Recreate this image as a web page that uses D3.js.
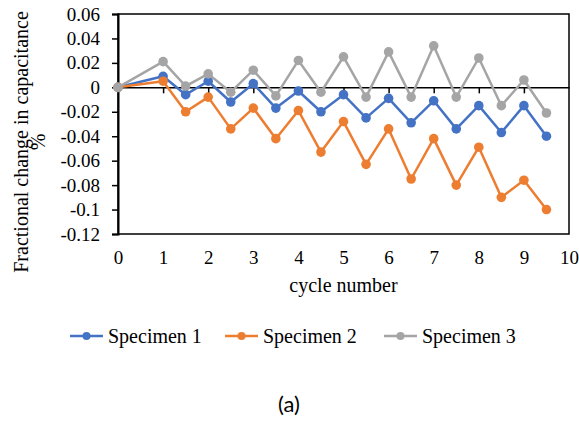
<!DOCTYPE html>
<html>
<head>
<meta charset="utf-8">
<script src="https://cdn.jsdelivr.net/npm/d3@7"></script>
<style>
  html, body { margin: 0; padding: 0; background: #fff; }
  svg { display: block; }
  .serif { font-family: "Liberation Serif", Tinos, "Times New Roman", Times, "DejaVu Serif", serif; }
  .sans { font-family: Lato, "Open Sans", sans-serif; }
</style>
</head>
<body>
<svg id="chart" width="579" height="424"></svg>
<script>
const cycles = [0, 1, 1.5, 2, 2.5, 3, 3.5, 4, 4.5, 5, 5.5, 6, 6.5, 7, 7.5, 8, 8.5, 9, 9.5];
const specimen1 = [0, 0.009, -0.006, 0.005, -0.012, 0.003, -0.017, -0.003, -0.020, -0.006, -0.025, -0.009, -0.029, -0.011, -0.034, -0.015, -0.037, -0.015, -0.040];
const specimen2 = [0, 0.005, -0.020, -0.008, -0.034, -0.017, -0.042, -0.019, -0.053, -0.028, -0.063, -0.034, -0.075, -0.042, -0.080, -0.049, -0.090, -0.076, -0.100];
const specimen3 = [0, 0.021, 0.001, 0.011, -0.004, 0.014, -0.007, 0.022, -0.004, 0.025, -0.008, 0.029, -0.008, 0.034, -0.008, 0.024, -0.015, 0.006, -0.021];
const seriesNames = ["Specimen 1", "Specimen 2", "Specimen 3"];
const seriesColors = ["#4472C4", "#ED7D31", "#A5A5A5"];
const xTicks = [0, 1, 2, 3, 4, 5, 6, 7, 8, 9, 10];
const yTicks = [0.06, 0.04, 0.02, 0, -0.02, -0.04, -0.06, -0.08, -0.1, -0.12];
const xTitle = "cycle number";
const yTitleLines = ["Fractional change in capacitance", "%"];
const caption = "(a)";

const svg = d3.select("#chart");
const L = 118, R = 569, T = 14, B = 234;

const x = d3.scaleLinear().domain([0, 10]).range([L, R]);
const y = d3.scaleLinear().domain([-0.12, 0.06]).range([B, T]);

const fmt = d => d === 0 ? "0" : String(+d.toFixed(2));

// frame
svg.append("rect").attr("x", L).attr("y", T).attr("width", R - L).attr("height", B - T)
  .attr("fill", "none").attr("stroke", "#000").attr("stroke-width", 1.5);

// y axis
const yAxis = svg.append("g").attr("transform", `translate(${L},0)`)
  .call(d3.axisLeft(y).tickValues(yTicks).tickFormat(fmt).tickSize(6).tickPadding(12));
yAxis.attr("font-family", null).attr("font-size", null);
yAxis.select(".domain").attr("stroke-width", 2);
yAxis.selectAll("line").attr("stroke-width", 1.5);
yAxis.selectAll("text").attr("class", "serif").style("font-size", "19px").attr("fill", "#000");

// x axis along zero line (ticks only)
const xAxisZero = svg.append("g").attr("transform", `translate(0,${y(0)})`)
  .call(d3.axisBottom(x).tickValues(xTicks.filter(t => t > 0 && t < 10)).tickFormat("").tickSize(6).tickSizeOuter(0));
xAxisZero.select(".domain").attr("stroke-width", 1.5);
xAxisZero.selectAll("line").attr("stroke-width", 1.5);

// x tick labels at bottom
const xAxisLow = svg.append("g").attr("transform", `translate(0,${B})`)
  .call(d3.axisBottom(x).tickValues(xTicks).tickSize(0).tickPadding(17));
xAxisLow.attr("font-family", null).attr("font-size", null);
xAxisLow.select(".domain").remove();
xAxisLow.selectAll("text").attr("class", "serif").style("font-size", "19px").attr("fill", "#000");

// titles
svg.append("text").attr("class", "serif").attr("x", (L + R) / 2).attr("y", 292).attr("text-anchor", "middle")
  .style("font-size", "20px").text(xTitle);

const yt = svg.append("text").attr("class", "serif").attr("transform", "translate(28,142) rotate(-90)")
  .attr("text-anchor", "middle").style("font-size", "20px");
yTitleLines.forEach((t, i) => {
  yt.append("tspan").attr("x", 0).attr("dy", i === 0 ? 0 : 17).text(t);
});

// series
const allSeries = [specimen1, specimen2, specimen3];
const line = d3.line().x((d, i) => x(cycles[i])).y(d => y(d));
allSeries.forEach((vals, si) => {
  const g = svg.append("g");
  g.append("path").datum(vals).attr("d", line).attr("fill", "none")
    .attr("stroke", seriesColors[si]).attr("stroke-width", 2.5).attr("stroke-linejoin", "round");
  g.selectAll("circle").data(vals).join("circle")
    .attr("cx", (d, i) => x(cycles[i])).attr("cy", d => y(d)).attr("r", 4.8)
    .attr("fill", seriesColors[si]);
});

// legend
const legendX = [70, 225, 384];
const ly = 336;
seriesNames.forEach((n, i) => {
  const g = svg.append("g").attr("transform", `translate(${legendX[i]},${ly})`);
  g.append("line").attr("x1", 0).attr("x2", 33).attr("y1", 0).attr("y2", 0)
    .attr("stroke", seriesColors[i]).attr("stroke-width", 2.5);
  g.append("circle").attr("cx", 16.5).attr("cy", 0).attr("r", 4).attr("fill", seriesColors[i]);
  g.append("text").attr("class", "serif").attr("x", 38).attr("y", 0).attr("dy", "0.35em")
    .style("font-size", "20px").text(n);
});

// caption
svg.append("text").attr("class", "sans").attr("x", 289).attr("y", 412).attr("text-anchor", "middle")
  .style("font-size", "22px").text(caption);
</script>
</body>
</html>
